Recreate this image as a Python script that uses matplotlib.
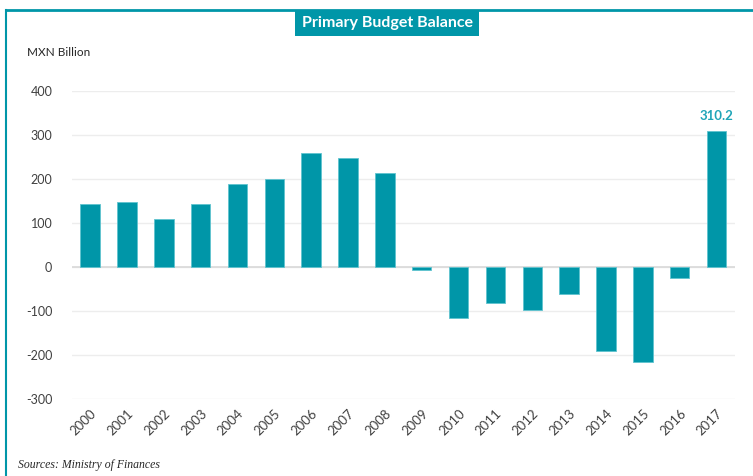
import numpy as np
import matplotlib.pyplot as plt
from matplotlib.lines import Line2D

# data
years = ['2000', '2001', '2002', '2003', '2004', '2005', '2006', '2007', '2008',
         '2009', '2010', '2011', '2012', '2013', '2014', '2015', '2016', '2017']
balance = [144, 148, 109, 144, 189, 199, 260, 247, 214,
           -7, -115, -82, -98, -62, -190, -217, -26, 310.2]
yticks = [-300, -200, -100, 0, 100, 200, 300, 400]

teal = '#0096A8'
label_teal = '#1FA5B8'
txt = '#404040'
font = ['Lato', 'DejaVu Sans']

fig = plt.figure(figsize=(7.53, 4.76), dpi=100)
ax = fig.add_axes([0.0952, 0.1618, 0.976 - 0.0952, 0.8088 - 0.1618])

x = np.arange(len(years))
ax.bar(x, balance, width=0.53, color=teal, edgecolor='#5FC3CF', linewidth=0.6, zorder=3)

ax.set_xlim(-0.5, len(years) - 0.5)
ax.set_ylim(-300, 400)
ax.set_yticks(yticks)
ax.set_yticklabels([str(v) for v in yticks], family=font, fontsize=9, color=txt)
ax.set_xticks(x)
ax.set_xticklabels(years, rotation=45, ha='right', rotation_mode='anchor',
                   family=font, fontsize=9.5, color=txt)
ax.tick_params(axis='both', length=0)
ax.tick_params(axis='y', pad=14)
ax.tick_params(axis='x', pad=6)

ax.grid(axis='y', color='#EDEDED', linewidth=1, zorder=0)
ax.axhline(0, color='#D9D9D9', linewidth=1.2, zorder=2)
for s in ax.spines.values():
    s.set_visible(False)

# last value label
ax.text(x[-1], balance[-1] + 20, '310.2', ha='center', va='bottom',
        family=font, fontsize=9.5, fontweight='bold', color=label_teal)

# unit label and source
fig.text(27 / 753, 1 - 52 / 476, 'MXN Billion', ha='left', va='center',
         family=font, fontsize=8.5, color='#262626')
fig.text(18 / 753, 1 - 465 / 476, 'Sources: Ministry of Finances', ha='left', va='center',
         family=['Liberation Serif', 'DejaVu Serif'], style='italic', fontsize=8.5, color='#262626')

# frame: top and left teal lines
fig.add_artist(Line2D([6 / 753, 1], [1 - 10 / 476, 1 - 10 / 476], color=teal, linewidth=2,
                      transform=fig.transFigure))
fig.add_artist(Line2D([6 / 753, 6 / 753], [0, 1 - 10 / 476], color=teal, linewidth=1.5,
                      transform=fig.transFigure))

# title box
fig.text(387 / 753, 1 - 23 / 476, 'Primary Budget Balance', ha='center', va='center',
         family=font, fontsize=11.5, fontweight='bold', color='white',
         bbox=dict(boxstyle='square,pad=0.4', facecolor=teal, edgecolor='none'))

plt.savefig('out.png', dpi=100)
